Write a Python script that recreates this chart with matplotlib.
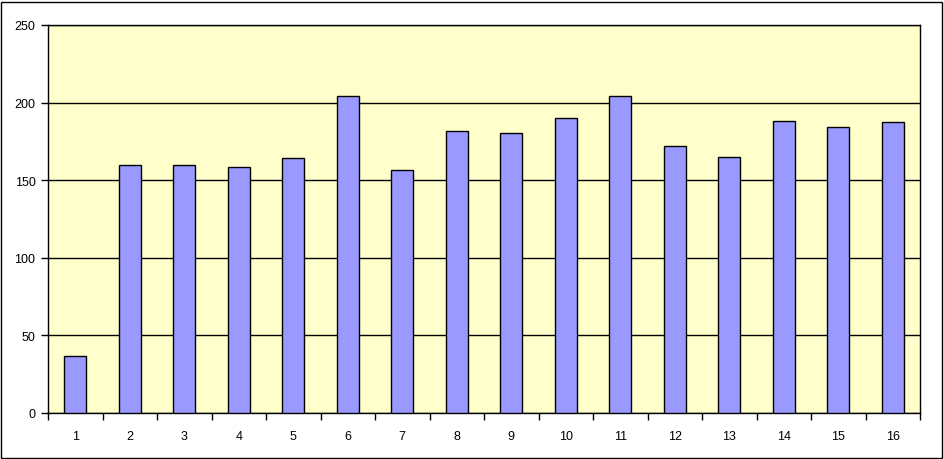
import matplotlib
matplotlib.use('Agg')
import matplotlib.pyplot as plt
import numpy as np
from matplotlib.patches import Rectangle

# data
categories = [str(i) for i in range(1, 17)]
values = [37, 160, 160, 158.5, 164, 204, 156.5, 182, 180.5, 190, 204.5, 172, 165, 188, 184, 187.5]
y_ticks = [0, 50, 100, 150, 200, 250]

plt.rcParams['font.family'] = ['Liberation Sans', 'DejaVu Sans']

fig = plt.figure(figsize=(9.45, 4.60), dpi=100)
fig.patch.set_facecolor('white')
fig.patches.append(Rectangle((0.5 / 945, 1.5 / 460), 942 / 945, 455.5 / 460,
                             transform=fig.transFigure, fill=False,
                             edgecolor='black', linewidth=1))

ax = fig.add_axes([48 / 945, 1 - 414 / 460, 872 / 945, 388 / 460])
ax.set_facecolor('#FFFFCC')

x = np.arange(len(categories))
ax.bar(x, values, width=0.4, color='#9999FF', edgecolor='black', linewidth=1, zorder=3)

ax.set_xlim(-0.5, len(categories) - 0.5)
ax.set_ylim(0, 250)
ax.set_yticks(y_ticks)
ax.set_yticklabels([str(v) for v in y_ticks], fontsize=9)
ax.set_xticks(x)
ax.set_xticklabels(categories, fontsize=9)
ax.set_xticks(np.arange(-0.5, len(categories)), minor=True)

ax.yaxis.grid(True, color='black', linewidth=1, zorder=1)
ax.set_axisbelow(True)
ax.tick_params(axis='x', which='major', length=0, pad=12)
ax.tick_params(axis='x', which='minor', length=5, width=1, direction='out')
ax.tick_params(axis='y', length=5, width=1, direction='out', pad=4)

for s in ax.spines.values():
    s.set_color('black')
    s.set_linewidth(1)

plt.savefig('out.png', dpi=100, facecolor='white')
plt.close()
